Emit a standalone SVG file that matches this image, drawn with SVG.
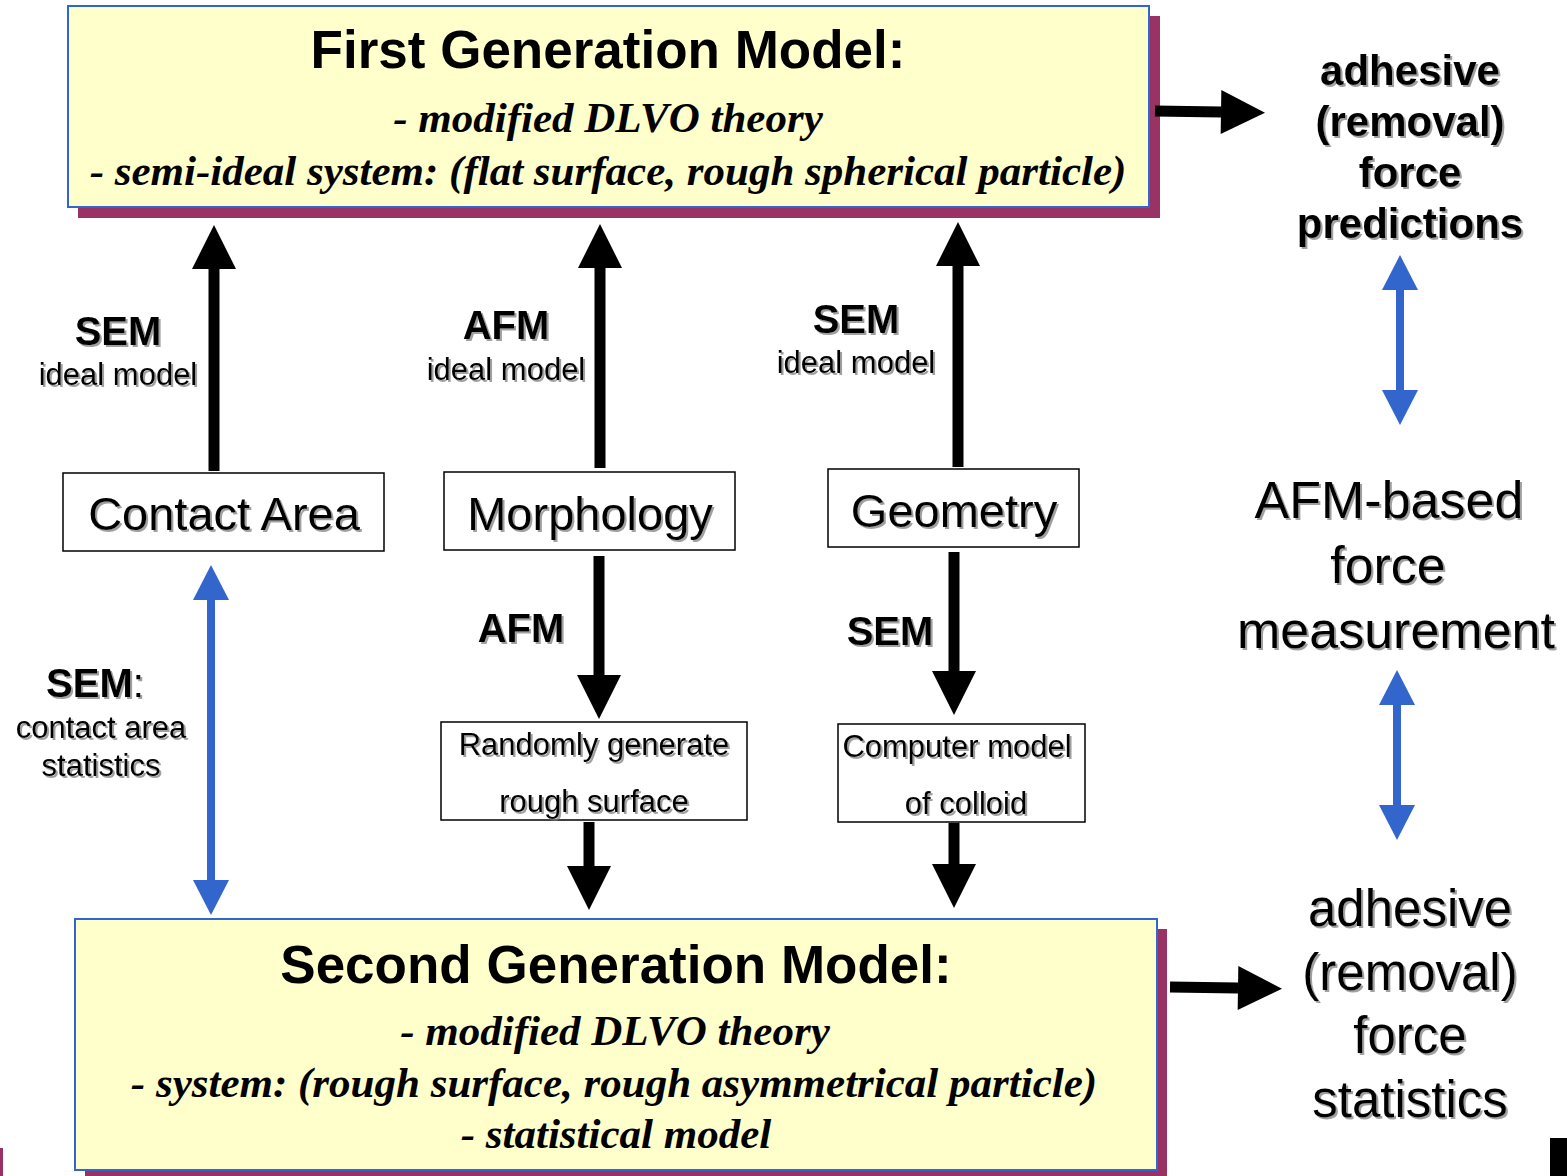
<svg xmlns="http://www.w3.org/2000/svg" width="1567" height="1176" viewBox="0 0 1567 1176">
<style>
.sans{font-family:"Liberation Sans",Arial,sans-serif;fill:#000}
.b{font-weight:bold}
.ser{font-family:"Liberation Serif","Times New Roman",serif;font-weight:bold;font-style:italic;fill:#000}
.mid{text-anchor:middle}
.shadow{fill:#993366}
.panel{fill:#FFFFCC;stroke:#3366CC;stroke-width:2}
.box{fill:#fff;stroke:#000;stroke-width:1.5}
.blk{stroke:#000;stroke-width:11;fill:none}
.blu{stroke:#3366CC;stroke-width:8;fill:none}
.sh{filter:url(#ts)}
</style>
<defs>
<filter id="ts" x="-10%" y="-20%" width="130%" height="150%">
<feDropShadow dx="2" dy="2" stdDeviation="0.7" flood-color="#777" flood-opacity="0.7"/>
</filter>
<marker id="ahK" markerUnits="userSpaceOnUse" markerWidth="46" markerHeight="46" refX="0" refY="22" orient="auto" overflow="visible">
<path d="M0,0 L44,22 L0,44 Z" fill="#000"/>
</marker>
<marker id="ahU" markerUnits="userSpaceOnUse" markerWidth="36" markerHeight="38" refX="0" refY="18" orient="auto-start-reverse" overflow="visible">
<path d="M0,0 L35,18 L0,36 Z" fill="#3366CC"/>
</marker>
</defs>
<rect width="1567" height="1176" fill="#fff"/>

<!-- artifacts -->
<rect x="0" y="1148" width="3" height="28" fill="#993366"/>
<rect x="1550" y="1138" width="17" height="38" fill="#000"/>

<g id="first-gen">
<rect class="shadow" x="78" y="16" width="1082" height="202"/>
<rect class="panel" x="68" y="6" width="1081" height="201"/>
<text class="sans b mid" x="608" y="68" font-size="53">First Generation Model:</text>
<text class="ser mid" x="608" y="132" font-size="43">- modified DLVO theory</text>
<text class="ser mid" x="608" y="185" font-size="43">- semi-ideal system: (flat surface, rough spherical particle)</text>
</g>

<g id="second-gen">
<rect class="shadow" x="85" y="929" width="1082" height="250"/>
<rect class="panel" x="75" y="919" width="1082" height="251"/>
<text class="sans b mid" x="616" y="983" font-size="53">Second Generation Model:</text>
<text class="ser mid" x="615" y="1045" font-size="43">- modified DLVO theory</text>
<text class="ser mid" x="614" y="1097" font-size="43">- system: (rough surface, rough asymmetrical particle)</text>
<text class="ser mid" x="616" y="1148" font-size="43">- statistical model</text>
</g>

<g id="contact-area">
<rect class="box" x="63" y="473" width="321" height="78"/>
<text class="sans mid sh" x="224" y="530" font-size="47">Contact Area</text>
</g>
<g id="morphology">
<rect class="box" x="444" y="472" width="291" height="78"/>
<text class="sans mid sh" x="590" y="530" font-size="47">Morphology</text>
</g>
<g id="geometry">
<rect class="box" x="828" y="469" width="251" height="78"/>
<text class="sans mid sh" x="954" y="527" font-size="47">Geometry</text>
</g>
<g id="random-surface">
<rect class="box" x="441" y="722" width="306" height="98"/>
<text class="sans mid sh" x="594" y="755" font-size="31">Randomly generate</text>
<text class="sans mid sh" x="594" y="812" font-size="31">rough surface</text>
</g>
<g id="computer-model">
<rect class="box" x="838" y="724" width="247" height="98"/>
<text class="sans mid sh" x="957" y="757" font-size="31">Computer model</text>
<text class="sans mid sh" x="966" y="814" font-size="31">of colloid</text>
</g>

<g id="predictions">
<text class="sans b mid sh" x="1410" y="85" font-size="42">adhesive</text>
<text class="sans b mid sh" x="1410" y="136" font-size="42">(removal)</text>
<text class="sans b mid sh" x="1410" y="187" font-size="42">force</text>
<text class="sans b mid sh" x="1410" y="238" font-size="42">predictions</text>
</g>
<g id="afm-measurement">
<text class="sans mid sh" x="1389" y="518" font-size="52">AFM-based</text>
<text class="sans mid sh" x="1388" y="583" font-size="52">force</text>
<text class="sans mid sh" x="1396" y="648" font-size="52">measurement</text>
</g>
<g id="statistics">
<text class="sans mid sh" x="1410" y="926" font-size="51">adhesive</text>
<text class="sans mid sh" x="1410" y="990" font-size="51">(removal)</text>
<text class="sans mid sh" x="1410" y="1053" font-size="51">force</text>
<text class="sans mid sh" x="1410" y="1117" font-size="51">statistics</text>
</g>

<g id="connectors">
<line class="blk" x1="214" y1="471" x2="214" y2="269" marker-end="url(#ahK)"/>
<line class="blk" x1="600" y1="468" x2="600" y2="268" marker-end="url(#ahK)"/>
<line class="blk" x1="958" y1="467" x2="958" y2="266" marker-end="url(#ahK)"/>
<line class="blk" x1="599" y1="556" x2="599" y2="675" marker-end="url(#ahK)"/>
<line class="blk" x1="954" y1="552" x2="954" y2="671" marker-end="url(#ahK)"/>
<line class="blk" x1="589" y1="822" x2="589" y2="866" marker-end="url(#ahK)"/>
<line class="blk" x1="954" y1="823" x2="954" y2="864" marker-end="url(#ahK)"/>
<line class="blk" x1="1155" y1="111" x2="1221" y2="112" marker-end="url(#ahK)"/>
<line class="blk" x1="1170" y1="987" x2="1238" y2="988" marker-end="url(#ahK)"/>
<line class="blu" x1="211" y1="600" x2="211" y2="880" marker-start="url(#ahU)" marker-end="url(#ahU)"/>
<line class="blu" x1="1400" y1="290" x2="1400" y2="390" marker-start="url(#ahU)" marker-end="url(#ahU)"/>
<line class="blu" x1="1397" y1="705" x2="1397" y2="805" marker-start="url(#ahU)" marker-end="url(#ahU)"/>
</g>

<g id="labels">
<text class="sans b mid sh" x="118" y="345" font-size="40">SEM</text>
<text class="sans mid sh" x="118" y="385" font-size="31">ideal model</text>
<text class="sans b mid sh" x="506" y="339" font-size="40">AFM</text>
<text class="sans mid sh" x="506" y="380" font-size="31">ideal model</text>
<text class="sans b mid sh" x="856" y="333" font-size="40">SEM</text>
<text class="sans mid sh" x="856" y="373" font-size="31">ideal model</text>
<text class="sans b mid sh" x="521" y="642" font-size="40">AFM</text>
<text class="sans b mid sh" x="890" y="645" font-size="40">SEM</text>
<text class="sans mid sh" x="95" y="697" font-size="40"><tspan font-weight="bold">SEM</tspan>:</text>
<text class="sans mid sh" x="101" y="738" font-size="31">contact area</text>
<text class="sans mid sh" x="101" y="776" font-size="31">statistics</text>
</g>
</svg>
